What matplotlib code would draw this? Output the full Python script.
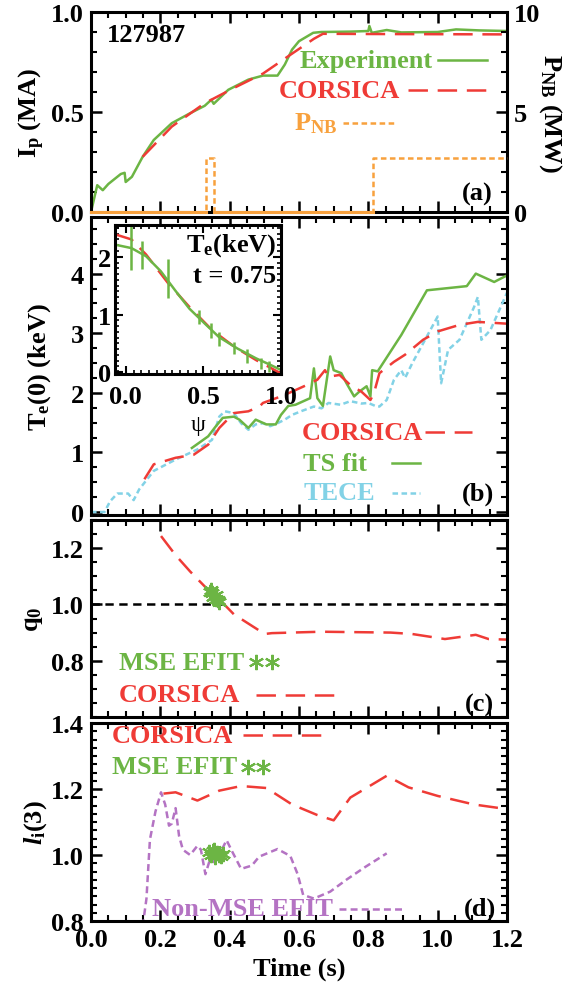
import numpy as np
import matplotlib
matplotlib.use('Agg')
import matplotlib.pyplot as plt
from matplotlib.ticker import MultipleLocator, FormatStrFormatter

plt.rcParams['font.family'] = ['Liberation Serif', 'DejaVu Serif']
plt.rcParams['font.weight'] = 'bold'
plt.rcParams['axes.labelweight'] = 'bold'
plt.rcParams['font.size'] = 19
plt.rcParams['mathtext.fontset'] = 'custom'
plt.rcParams['mathtext.rm'] = 'Liberation Serif:bold'
plt.rcParams['mathtext.it'] = 'Liberation Serif:bold:italic'
plt.rcParams['mathtext.bf'] = 'Liberation Serif:bold'
plt.rcParams['lines.scale_dashes'] = False

GREEN = '#6cb544'
RED = '#ef3b36'
ORANGE = '#f8a13d'
CYAN = '#82d2e6'
PURPLE = '#b473c3'

# (a) plasma current, MA
t_ip_exp = [0.0, 0.018, 0.034, 0.05, 0.086, 0.097, 0.10, 0.118, 0.149, 0.181, 0.233, 0.286,
            0.328, 0.347, 0.354, 0.396, 0.454, 0.496, 0.538, 0.559, 0.58, 0.60, 0.641, 0.664,
            0.75, 0.80, 0.803, 0.81, 0.853, 0.895, 1.0, 1.053, 1.12, 1.2]
ip_exp = [0.0, 0.134, 0.109, 0.14, 0.19, 0.196, 0.15, 0.176, 0.276, 0.36, 0.444, 0.494,
          0.531, 0.561, 0.541, 0.611, 0.662, 0.682, 0.682, 0.737, 0.812, 0.854, 0.896, 0.90,
          0.902, 0.905, 0.93, 0.896, 0.91, 0.898, 0.90, 0.913, 0.908, 0.905]
t_ip_cor = [0.149, 0.233, 0.328, 0.412, 0.496, 0.57, 0.643, 0.669, 0.8, 1.0, 1.2]
ip_cor = [0.276, 0.427, 0.544, 0.62, 0.692, 0.78, 0.866, 0.891, 0.89, 0.889, 0.888]
# neutral beam power, MW
t_pnb = np.array([0.0, 0.333, 0.333, 0.355, 0.355, 0.813, 0.813, 1.2])
pnb = np.array([0.0, 0.0, 2.7, 2.7, 0.0, 0.0, 2.7, 2.7])

# (b) central electron temperature, keV
t_te_cor = [0.154, 0.181, 0.244, 0.296, 0.338, 0.37, 0.412, 0.454, 0.486, 0.496, 0.548, 0.58,
            0.622, 0.653, 0.675, 0.685, 0.717, 0.748, 0.78, 0.806, 0.816, 0.832, 0.874, 0.906,
            0.958, 1.0, 1.063, 1.116, 1.2]
te_cor = [0.55, 0.80, 0.91, 0.96, 1.13, 1.41, 1.66, 1.69, 1.77, 1.83, 1.94, 2.02,
          2.13, 2.22, 2.38, 2.27, 2.30, 2.13, 2.02, 1.88, 1.99, 2.33, 2.52, 2.64,
          2.89, 3.03, 3.14, 3.19, 3.16]
t_te_ts = [0.291, 0.338, 0.359, 0.38, 0.412, 0.428, 0.454, 0.475, 0.506, 0.533, 0.548, 0.569,
           0.59, 0.632, 0.643, 0.653, 0.669, 0.69, 0.70, 0.722, 0.737, 0.759, 0.774, 0.795,
           0.806, 0.811, 0.827, 0.895, 0.969, 1.084, 1.11, 1.163, 1.2]
te_ts = [1.075, 1.27, 1.43, 1.58, 1.60, 1.55, 1.41, 1.55, 1.47, 1.47, 1.63, 1.78,
         1.80, 1.91, 2.41, 1.91, 1.78, 2.61, 2.38, 2.33, 2.16, 1.94, 2.02, 2.11,
         1.94, 2.38, 2.36, 2.97, 3.72, 3.79, 4.0, 3.86, 3.97]
t_te_ece = [0.0, 0.039, 0.055, 0.076, 0.107, 0.123, 0.139, 0.181, 0.244, 0.307, 0.349, 0.37,
            0.386, 0.412, 0.433, 0.454, 0.475, 0.496, 0.517, 0.538, 0.559, 0.58, 0.61, 0.643,
            0.665, 0.685, 0.72, 0.748, 0.78, 0.80, 0.82, 0.832, 0.853, 0.874, 0.895, 0.906,
            0.927, 0.958, 1.0, 1.01, 1.03, 1.063, 1.105, 1.116, 1.126, 1.152, 1.2]
te_ece = [0.0, 0.0, 0.18, 0.31, 0.31, 0.20, 0.38, 0.69, 0.88, 1.05, 1.21, 1.60,
          1.69, 1.66, 1.49, 1.38, 1.47, 1.49, 1.44, 1.49, 1.55, 1.63, 1.70, 1.77,
          1.74, 1.83, 1.80, 1.86, 1.82, 1.83, 1.78, 1.77, 1.88, 2.22, 2.38, 2.25,
          2.50, 2.83, 3.28, 2.16, 2.72, 2.89, 3.44, 3.61, 2.89, 3.05, 3.68]

# (b) inset: Te profile at t = 0.75 s
psi_cor = [-0.07, 0.036, 0.13, 0.27, 0.41, 0.556, 0.70, 0.84, 1.0]
te_prof_cor = [2.39, 2.30, 2.04, 1.55, 1.13, 0.73, 0.44, 0.21, -0.02]
psi_fit = [-0.07, 0.036, 0.13, 0.225, 0.32, 0.41, 0.51, 0.60, 0.72, 0.84, 0.93, 1.0]
te_prof_fit = [2.21, 2.15, 2.01, 1.75, 1.41, 1.10, 0.84, 0.61, 0.41, 0.24, 0.13, 0.04]
psi_ts = [0.03, 0.107, 0.27, 0.47, 0.55, 0.60, 0.70, 0.78, 0.87, 0.92]
te_ts_pts = [2.15, 2.03, 1.62, 0.96, 0.72, 0.58, 0.42, 0.28, 0.15, 0.10]
te_ts_err = [0.38, 0.25, 0.34, 0.12, 0.13, 0.12, 0.10, 0.12, 0.09, 0.09]

# (c) central safety factor
t_q_cor = [0.202, 0.244, 0.286, 0.328, 0.37, 0.412, 0.464, 0.501, 0.522, 0.664, 0.864, 0.926,
           1.021, 1.11, 1.147, 1.2]
q_cor = [1.243, 1.175, 1.117, 1.064, 1.018, 0.965, 0.924, 0.895, 0.898, 0.903, 0.90, 0.895,
         0.877, 0.892, 0.877, 0.875]
t_q_mse = [0.343, 0.350, 0.355, 0.360, 0.365, 0.370, 0.352, 0.362, 0.347]
q_mse = [1.045, 1.04, 1.03, 1.02, 1.015, 1.01, 1.025, 1.035, 1.05]

# (d) internal inductance
t_li_cor = [0.209, 0.244, 0.307, 0.37, 0.433, 0.506, 0.58, 0.653, 0.70, 0.748, 0.853, 0.916,
            1.0, 1.105, 1.2]
li_cor = [1.186, 1.19, 1.165, 1.195, 1.209, 1.203, 1.153, 1.121, 1.105, 1.174, 1.24, 1.205,
          1.179, 1.153, 1.139]
t_li_efit = [0.149, 0.16, 0.17, 0.186, 0.202, 0.214, 0.225, 0.233, 0.244, 0.254, 0.265, 0.286,
             0.307, 0.317, 0.33, 0.344, 0.36, 0.375, 0.391, 0.407, 0.433, 0.464, 0.485, 0.538,
             0.575, 0.596, 0.612, 0.643, 0.69, 0.738, 0.79, 0.853]
li_efit = [0.784, 0.868, 1.047, 1.132, 1.19, 1.153, 1.089, 1.095, 1.142, 1.058, 1.016, 1.0,
           1.028, 1.016, 0.942, 0.989, 0.974, 1.011, 1.045, 1.011, 0.958, 0.968, 0.995, 1.018,
           0.997, 0.942, 0.879, 0.868, 0.889, 0.926, 0.963, 1.005]
t_li_mse = [0.34, 0.346, 0.352, 0.358, 0.364, 0.37, 0.376, 0.382, 0.355]
li_mse = [1.01, 1.0, 1.012, 0.995, 1.005, 1.0, 0.997, 1.003, 1.015]

ASTER = (6, 2, 0)
LW = 1.8
DASH_COR = (14, 7)
MS = 11

fig = plt.figure(figsize=(5.70, 9.87), dpi=100)
L, W = 91 / 570, 416 / 570
H = 987.0


def panel(top_px, bot_px):
    return fig.add_axes([L, 1 - bot_px / H, W, (bot_px - top_px) / H])


def style(ax, xlabels=False, right=True):
    ax.set_xlim(0, 1.2)
    ax.xaxis.set_major_locator(MultipleLocator(0.2))
    ax.xaxis.set_minor_locator(MultipleLocator(0.05))
    ax.xaxis.set_major_formatter(FormatStrFormatter('%.1f'))
    ax.tick_params(which='both', direction='in', top=True, right=right, width=1.8,
                   labelbottom=xlabels, pad=5)
    ax.tick_params(which='major', length=8)
    ax.tick_params(which='minor', length=4, width=1.5)
    for s in ax.spines.values():
        s.set_linewidth(2.2)


def legline(ax, x0, x1, y, **kw):
    ax.plot([x0, x1], [y, y], transform=ax.transAxes, clip_on=False, **kw)


# ---- (a) ----
ax = panel(13, 213)
style(ax, right=False)
ax.plot(t_ip_exp, ip_exp, color=GREEN, lw=LW)
ax.plot(t_ip_cor, ip_cor, color=RED, lw=LW, dashes=DASH_COR)
ax.set_ylim(0, 1.0)
ax.yaxis.set_major_locator(MultipleLocator(0.5))
ax.yaxis.set_minor_locator(MultipleLocator(0.1))
ax.yaxis.set_major_formatter(FormatStrFormatter('%.1f'))
ax.set_ylabel(r'I$_\mathrm{p}$ (MA)')
ax.yaxis.set_label_coords(-0.105, 0.5)
ax2 = ax.twinx()
ax2.plot(t_pnb, pnb, color=ORANGE, lw=LW, dashes=(4, 2.5), clip_on=False, zorder=5)
# beam-off stretches sit on the axis and show as a solid line
pnb_off = np.where(pnb[:-1] + pnb[1:] == 0, 0.0, np.nan)
ax2.plot(np.repeat(t_pnb, 2)[1:-1], np.repeat(pnb_off, 2), color=ORANGE, lw=2.2,
         clip_on=False, zorder=6)
ax2.set_ylim(0, 10)
ax2.yaxis.set_major_locator(MultipleLocator(5))
ax2.yaxis.set_minor_locator(MultipleLocator(1))
ax2.tick_params(which='both', direction='in', width=1.8, pad=5)
ax2.tick_params(which='major', length=8)
ax2.tick_params(which='minor', length=4, width=1.5)
ax2.set_ylabel(r'P$_\mathrm{NB}$ (MW)', rotation=-90, va='center')
ax2.yaxis.set_label_coords(1.105, 0.5)
ax.text(0.037, 0.888, '127987', transform=ax.transAxes, va='center', ha='left')
ax.text(0.821, 0.759, 'Experiment', color=GREEN, transform=ax.transAxes, va='center', ha='right')
legline(ax, 0.833, 0.951, 0.759, color=GREEN, lw=LW)
ax.text(0.742, 0.608, 'CORSICA', color=RED, transform=ax.transAxes, va='center', ha='right')
legline(ax, 0.763, 0.956, 0.608, color=RED, lw=LW, dashes=DASH_COR)
ax.text(0.593, 0.444, r'P$_\mathrm{NB}$', color=ORANGE, transform=ax.transAxes, va='center', ha='right')
legline(ax, 0.606, 0.733, 0.447, color=ORANGE, lw=LW, dashes=(4, 2.5))
ax.text(0.965, 0.092, '(a)', transform=ax.transAxes, va='center', ha='right')

# ---- (b) ----
ax = panel(218, 516)
style(ax)
ax.plot(t_te_ece, te_ece, color=CYAN, lw=LW, dashes=(4, 2.5))
ax.plot(t_te_ts, te_ts, color=GREEN, lw=LW)
ax.plot(t_te_cor, te_cor, color=RED, lw=LW, dashes=DASH_COR)
ax.set_ylim(-0.05, 4.95)
ax.yaxis.set_major_locator(MultipleLocator(1))
ax.yaxis.set_minor_locator(MultipleLocator(0.25))
ax.set_ylabel(r'T$_\mathrm{e}$(0) (keV)')
ax.yaxis.set_label_coords(-0.092, 0.5)
ax.text(0.799, 0.278, 'CORSICA', color=RED, transform=ax.transAxes, va='center', ha='right')
legline(ax, 0.803, 0.917, 0.278, color=RED, lw=LW, dashes=DASH_COR)
ax.text(0.510, 0.174, 'TS fit', color=GREEN, transform=ax.transAxes, va='center', ha='left')
legline(ax, 0.724, 0.79, 0.174, color=GREEN, lw=LW)
ax.text(0.510, 0.074, 'TECE', color=CYAN, transform=ax.transAxes, va='center', ha='left')
legline(ax, 0.724, 0.79, 0.074, color=CYAN, lw=LW, dashes=(4, 2.5))
ax.text(0.969, 0.074, '(b)', transform=ax.transAxes, va='center', ha='right')

# inset profile
axi = fig.add_axes([115 / 570, 1 - 375 / H, 166 / 570, 149 / H])
axi.set_facecolor('white')
axi.plot(psi_cor, te_prof_cor, color=RED, lw=LW, dashes=DASH_COR)
axi.plot(psi_fit, te_prof_fit, color=GREEN, lw=LW)
axi.errorbar(psi_ts, te_ts_pts, yerr=te_ts_err, fmt='none', ecolor=GREEN, elinewidth=1.8, capsize=0)
axi.set_xlim(-0.07, 1.0)
axi.set_ylim(-0.03, 2.55)
axi.xaxis.set_major_locator(MultipleLocator(0.5))
axi.xaxis.set_minor_locator(MultipleLocator(0.05))
axi.xaxis.set_major_formatter(FormatStrFormatter('%.1f'))
axi.yaxis.set_major_locator(MultipleLocator(1))
axi.yaxis.set_minor_locator(MultipleLocator(0.1))
axi.tick_params(which='both', direction='in', top=True, right=True, width=1.5)
axi.tick_params(axis='x', pad=8)
axi.tick_params(axis='y', pad=3)
axi.tick_params(which='major', length=6)
axi.tick_params(which='minor', length=3, width=1.2)
for s in axi.spines.values():
    s.set_linewidth(2.2)
axi.set_xlabel('ψ', fontsize=17, fontweight='normal', labelpad=4)
axi.text(0.97, 0.87, r'T$_\mathrm{e}$(keV)', transform=axi.transAxes, va='center', ha='right')
axi.text(0.97, 0.66, 't = 0.75', transform=axi.transAxes, va='center', ha='right')

# ---- (c) ----
ax = panel(521, 718)
style(ax)
ax.axhline(1.0, color='black', lw=LW, dashes=(6, 4))
ax.plot(t_q_cor, q_cor, color=RED, lw=LW, dashes=DASH_COR)
ax.plot(t_q_mse, q_mse, ls='none', marker=ASTER, color=GREEN, ms=MS, mew=1.5)
ax.set_ylim(0.6, 1.3)
ax.yaxis.set_major_locator(MultipleLocator(0.2))
ax.yaxis.set_minor_locator(MultipleLocator(0.05))
ax.yaxis.set_major_formatter(FormatStrFormatter('%.1f'))
ax.set_yticks([0.8, 1.0, 1.2])
ax.set_ylabel(r'q$_\mathrm{0}$')
ax.yaxis.set_label_coords(-0.11, 0.5)
ax.text(0.067, 0.279, 'MSE EFIT', color=GREEN, transform=ax.transAxes, va='center', ha='left')
ax.plot([0.396, 0.435], [0.279, 0.279], transform=ax.transAxes, ls='none', marker=ASTER,
        color=GREEN, ms=MS, mew=1.5, clip_on=False)
ax.text(0.067, 0.114, 'CORSICA', color=RED, transform=ax.transAxes, va='center', ha='left')
legline(ax, 0.396, 0.584, 0.114, color=RED, lw=LW, dashes=DASH_COR)
ax.text(0.969, 0.066, '(c)', transform=ax.transAxes, va='center', ha='right')

# ---- (d) ----
ax = panel(724, 922)
style(ax, xlabels=True)
ax.plot(t_li_efit, li_efit, color=PURPLE, lw=LW, dashes=(5, 3))
ax.plot(t_li_cor, li_cor, color=RED, lw=LW, dashes=DASH_COR)
ax.plot(t_li_mse, li_mse, ls='none', marker=ASTER, color=GREEN, ms=MS, mew=1.5)
ax.set_ylim(0.8, 1.4)
ax.yaxis.set_major_locator(MultipleLocator(0.2))
ax.yaxis.set_minor_locator(MultipleLocator(0.025))
ax.yaxis.set_major_formatter(FormatStrFormatter('%.1f'))
ax.set_ylabel(r'$l_\mathrm{i}$(3)')
ax.yaxis.set_label_coords(-0.10, 0.5)
ax.set_xlabel('Time (s)', labelpad=4)
ax.text(0.05, 0.938, 'CORSICA', color=RED, transform=ax.transAxes, va='center', ha='left')
legline(ax, 0.365, 0.553, 0.938, color=RED, lw=LW, dashes=DASH_COR)
ax.text(0.05, 0.78, 'MSE EFIT', color=GREEN, transform=ax.transAxes, va='center', ha='left')
ax.plot([0.378, 0.413], [0.78, 0.78], transform=ax.transAxes, ls='none', marker=ASTER,
        color=GREEN, ms=MS, mew=1.5, clip_on=False)
ax.text(0.146, 0.062, 'Non-MSE EFIT', color=PURPLE, transform=ax.transAxes, va='center', ha='left')
legline(ax, 0.597, 0.75, 0.062, color=PURPLE, lw=LW, dashes=(5, 3))
ax.text(0.974, 0.062, '(d)', transform=ax.transAxes, va='center', ha='right')

fig.savefig('out.png', dpi=100)
